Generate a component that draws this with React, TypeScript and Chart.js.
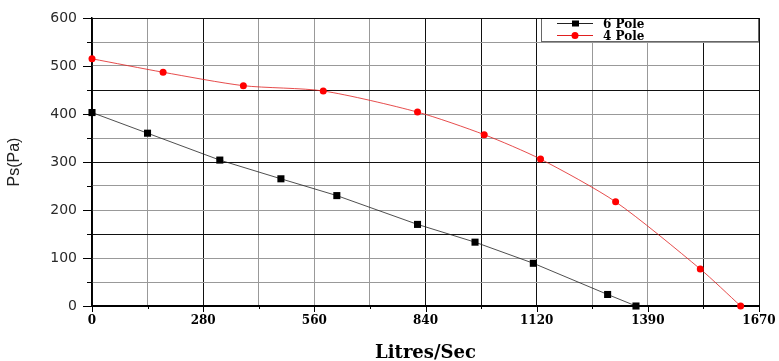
import React, { useEffect, useRef } from 'react';
import { Chart, registerables } from 'chart.js';
Chart.register(...registerables);

const xTickLabels = ['0', '280', '560', '840', '1120', '1390', '1670'];
const xMax = 1670;
const yMax = 600;

const pole6X = [0, 139, 320, 473, 613, 815, 959, 1105, 1291, 1362];
const pole6Y = [403, 360, 304, 265, 230, 170, 133, 89, 24, 0];
const pole4X = [0, 178, 379, 579, 815, 982, 1123, 1311, 1523, 1624];
const pole4Y = [515, 487, 459, 448, 404, 357, 306, 217, 77, 0];

const seriesNames = ['6 Pole', '4 Pole'];
const darkXGrid = [0, 2, 6, 7, 8, 11, 12];

const tickMarks = {
  id: 'tickMarks',
  afterDraw(chart: any) {
    const { ctx, scales } = chart;
    const x = scales.x, y = scales.y;
    const area = chart.chartArea;
    ctx.save();
    ctx.strokeStyle = '#000';
    ctx.lineWidth = 1;
    for (let v = 0; v <= yMax; v += 50) {
      const py = Math.round(y.getPixelForValue(v)) + 0.5;
      const len = v % 100 === 0 ? 9 : 5;
      ctx.beginPath();
      ctx.moveTo(area.left - len, py);
      ctx.lineTo(area.left, py);
      ctx.stroke();
    }
    for (let i = 0; i <= 12; i++) {
      const px = Math.round(x.getPixelForValue((i * xMax) / 12)) + 0.5;
      const len = i % 2 === 0 ? 6 : 3;
      ctx.beginPath();
      ctx.moveTo(px, area.bottom);
      ctx.lineTo(px, area.bottom + len);
      ctx.stroke();
    }
    ctx.restore();
  },
};

const boxLegend = {
  id: 'boxLegend',
  afterDraw(chart: any) {
    const { ctx } = chart;
    const area = chart.chartArea;
    const left = 541, top = area.top, right = area.right, bottom = area.top + 24;
    ctx.save();
    ctx.fillStyle = '#fff';
    ctx.fillRect(left, top, right - left, bottom - top);
    ctx.strokeStyle = '#666';
    ctx.lineWidth = 1;
    ctx.strokeRect(left + 0.5, top + 0.5, right - left - 1, bottom - top - 1);
    ctx.strokeStyle = '#000';
    ctx.beginPath();
    ctx.moveTo(left, top + 0.5);
    ctx.lineTo(right, top + 0.5);
    ctx.stroke();
    const rows = [top + 5.5, top + 17.5];
    chart.data.datasets.forEach((ds: any, i: number) => {
      const yy = rows[i];
      ctx.strokeStyle = ds.borderColor;
      ctx.lineWidth = 1;
      ctx.beginPath();
      ctx.moveTo(557, yy);
      ctx.lineTo(593, yy);
      ctx.stroke();
      ctx.fillStyle = ds.pointBackgroundColor;
      if (ds.pointStyle === 'rect') {
        ctx.fillRect(572, yy - 3, 7, 6);
      } else {
        ctx.beginPath();
        ctx.arc(575, yy, 3.5, 0, Math.PI * 2);
        ctx.fill();
      }
      ctx.fillStyle = '#000';
      ctx.font = 'bold 12px "DejaVu Serif"';
      ctx.textBaseline = 'middle';
      ctx.textAlign = 'left';
      ctx.fillText(ds.label, 603, yy + 1);
    });
    ctx.restore();
  },
};

export default function App() {
  const ref = useRef<HTMLCanvasElement>(null);
  useEffect(() => {
    if (!ref.current) return;
    const chart = new Chart(ref.current, {
      type: 'line',
      data: {
        datasets: [
          {
            label: seriesNames[0],
            data: pole6X.map((x, i) => ({ x, y: pole6Y[i] })),
            borderColor: '#222',
            backgroundColor: '#000',
            pointBackgroundColor: '#000',
            pointBorderColor: '#000',
            pointStyle: 'rect',
            pointRadius: 5,
            pointBorderWidth: 0,
            borderWidth: 0.8,
            tension: 0,
            clip: false,
          } as any,
          {
            label: seriesNames[1],
            data: pole4X.map((x, i) => ({ x, y: pole4Y[i] })),
            borderColor: '#e02020',
            backgroundColor: '#ff0000',
            pointBackgroundColor: '#ff0000',
            pointBorderColor: '#ff0000',
            pointStyle: 'circle',
            pointRadius: 3.5,
            pointBorderWidth: 0,
            borderWidth: 0.8,
            tension: 0.25,
            clip: false,
          } as any,
        ],
      },
      options: {
        animation: false,
        responsive: true,
        maintainAspectRatio: false,
        layout: { padding: { left: 0, right: 20, top: 18, bottom: 0 } },
        plugins: { legend: { display: false }, tooltip: { enabled: false } },
        scales: {
          x: {
            type: 'linear',
            min: 0,
            max: xMax,
            afterBuildTicks: (s: any) => {
              s.ticks = Array.from({ length: 13 }, (_, i) => ({ value: (i * xMax) / 12 }));
            },
            afterFit: (s: any) => {
              s.height = 55;
              s.paddingLeft = 0;
              s.paddingRight = 0;
            },
            ticks: {
              autoSkip: false,
              maxRotation: 0,
              padding: 8,
              color: '#000',
              font: { family: 'DejaVu Serif', weight: 'bold', size: 12 },
              callback: (_v: any, i: number) => (i % 2 === 0 ? xTickLabels[i / 2] : ''),
            },
            grid: {
              drawTicks: false,
              color: (c: any) => (darkXGrid.includes(c.index) ? '#111' : '#999'),
              lineWidth: 1,
            },
            border: { color: '#000', width: 2 },
            title: {
              display: true,
              text: 'Litres/Sec',
              color: '#000',
              font: { family: 'DejaVu Serif', weight: 'bold', size: 18 },
              padding: { top: 0, bottom: -3 },
            },
          } as any,
          y: {
            type: 'linear',
            min: 0,
            max: yMax,
            afterFit: (s: any) => {
              s.width = 92;
              s.paddingTop = 0;
              s.paddingBottom = 0;
            },
            ticks: {
              stepSize: 50,
              autoSkip: false,
              padding: 15,
              color: '#2a2a2a',
              font: { family: 'DejaVu Sans', size: 14 },
              callback: (v: any) => (v % 100 === 0 ? String(v) : ''),
            },
            grid: {
              drawTicks: false,
              color: (c: any) => (c.index % 3 === 0 ? '#111' : '#999'),
              lineWidth: 1,
            },
            border: { color: '#000', width: 1.5 },
            title: {
              display: true,
              text: 'Ps(Pa)',
              color: '#222',
              font: { family: 'Liberation Sans', size: 16 },
              padding: { top: 5, bottom: 0 },
            },
          } as any,
        },
      },
      plugins: [tickMarks, boxLegend],
    });
    return () => chart.destroy();
  }, []);
  return (
    <div style={{ position: 'fixed', left: 0, top: 0, width: 779, height: 361, background: '#fff' }}>
      <canvas ref={ref} />
    </div>
  );
}
